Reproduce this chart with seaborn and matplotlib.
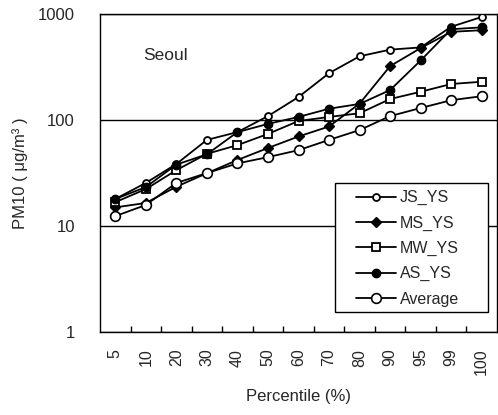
import numpy as np
import pandas as pd
import matplotlib
matplotlib.use("Agg")
import matplotlib.pyplot as plt
from matplotlib.patches import Rectangle
from matplotlib.ticker import FixedLocator, NullLocator, FuncFormatter
import seaborn as sns

categories = ['5', '10', '20', '30', '40', '50', '60', '70', '80', '90', '95', '99', '100']
js_ys = [18, 25.5, 38.5, 65, 77, 109, 165, 277, 400, 462, 485, 760, 940]
ms_ys = [15, 16.5, 23.5, 31.5, 42, 54.5, 70, 87, 143, 323, 478, 680, 705]
mw_ys = [16.8, 22.3, 33.7, 48, 58, 74, 98, 107, 116, 158, 185, 219, 230]
as_ys = [18, 23.3, 38, 47.5, 77, 92, 107, 128, 142, 192, 365, 720, 750]
average = [12.4, 15.8, 25.5, 31.6, 39, 44.7, 52, 65, 80.5, 109, 130, 154, 168]
series_names = ['JS_YS', 'MS_YS', 'MW_YS', 'AS_YS', 'Average']

sns.set_theme(style="white")
plt.rcParams['font.family'] = ['Liberation Sans', 'DejaVu Sans']

rows = []
for name, vals in zip(series_names, [js_ys, ms_ys, mw_ys, as_ys, average]):
    for i, (c, v) in enumerate(zip(categories, vals)):
        rows.append({'pos': i, 'Percentile': c, 'PM10': v, 'Series': name})
df = pd.DataFrame(rows)

fig = plt.figure(figsize=(4.98, 4.15), dpi=100)
ax = fig.add_axes([0.2008, 0.2, 0.7972, 0.766])

styles = {
    'JS_YS': dict(marker='o', ms=5, mfc='white', mec='black', mew=1.3),
    'MS_YS': dict(marker='D', ms=5, mfc='black', mec='black', mew=1.0),
    'MW_YS': dict(marker='s', ms=5.5, mfc='white', mec='black', mew=1.3),
    'AS_YS': dict(marker='o', ms=6, mfc='black', mec='black', mew=1.0),
    'Average': dict(marker='o', ms=7, mfc='white', mec='black', mew=1.2),
}
for name in series_names:
    sub = df[df['Series'] == name]
    sns.lineplot(data=sub, x='pos', y='PM10', ax=ax, color='black', lw=1.3,
                 label=name, zorder=3, **styles[name])

ax.set_yscale('log')
ax.set_ylim(1, 1000)
ax.set_xlim(-0.5, len(categories) - 0.5)
ax.yaxis.set_major_locator(FixedLocator([1, 10, 100, 1000]))
ax.yaxis.set_minor_locator(NullLocator())
ax.yaxis.set_major_formatter(FuncFormatter(lambda v, p: f"{v:g}"))
ax.yaxis.grid(True, color='black', lw=1.0)
ax.xaxis.grid(False)
ax.tick_params(axis='y', length=0, pad=18, labelsize=12)

ax.set_xticks(range(len(categories)))
ax.set_xticklabels(categories, rotation=90, fontsize=11.5)
ax.xaxis.set_minor_locator(FixedLocator(np.arange(0.5, len(categories) - 1, 1.0)))
ax.tick_params(axis='x', which='major', length=0, pad=12)
ax.tick_params(axis='x', which='minor', direction='in', length=4, width=1, color='black', bottom=True)

for s in ax.spines.values():
    s.set_color('black')
    s.set_linewidth(1.0)

ax.set_xlabel('Percentile (%)', fontsize=12, labelpad=10)
ax.set_ylabel('PM10 ( μg/m³ )', fontsize=12, labelpad=7)
ax.text(0.108, 0.87, 'Seoul', transform=ax.transAxes, fontsize=12.5, va='center', ha='left')

ax.add_patch(Rectangle((0.593, 0.063), 0.384, 0.406, transform=ax.transAxes,
                       facecolor='white', edgecolor='black', lw=1.0, zorder=5))
leg = ax.legend(loc='upper left', bbox_to_anchor=(0.646, 0.446), frameon=False,
                fontsize=11.5, handlelength=2.5, handletextpad=0.2,
                labelspacing=0.64, borderpad=0, borderaxespad=0)
leg.set_zorder(6)

fig.savefig('out.png', dpi=100)
